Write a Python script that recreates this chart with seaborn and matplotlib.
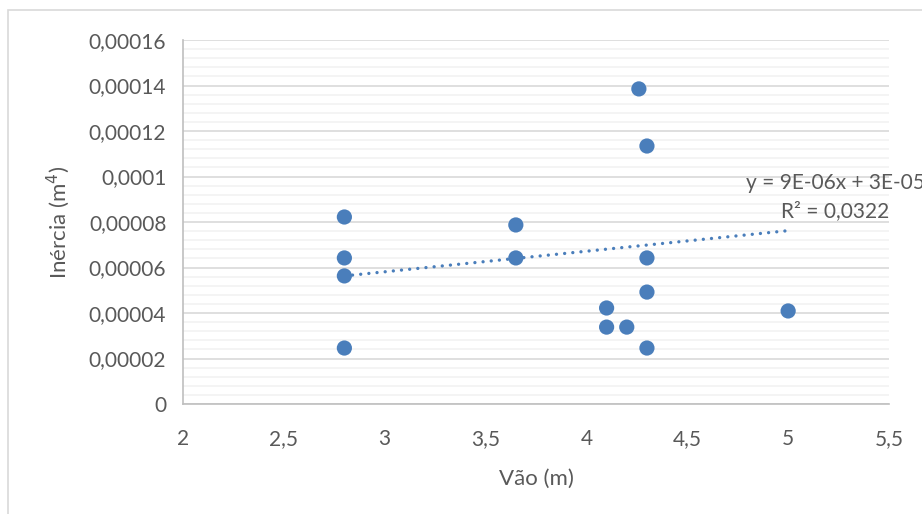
import numpy as np
import pandas as pd
import matplotlib
matplotlib.use("Agg")
import matplotlib.pyplot as plt
import seaborn as sns
from matplotlib.ticker import MultipleLocator
from matplotlib.patches import Rectangle

# dados
vao = [2.8, 2.8, 2.8, 2.8, 3.65, 3.65, 4.26, 4.3, 4.3, 4.3, 4.3, 4.1, 4.1, 4.2, 5.0]
inercia = [0.0000822, 0.0000642, 0.0000563, 0.0000246, 0.0000787, 0.0000642, 0.0001385,
           0.0001134, 0.0000642, 0.0000492, 0.0000246, 0.0000422, 0.0000338, 0.0000338, 0.0000409]
trend_x = [2.8, 5.0]
trend_y = [0.0000563, 0.0000762]
x_ticks = [2, 2.5, 3, 3.5, 4, 4.5, 5, 5.5]
x_labels = ["2", "2,5", "3", "3,5", "4", "4,5", "5", "5,5"]
y_ticks = [0, 0.00002, 0.00004, 0.00006, 0.00008, 0.0001, 0.00012, 0.00014, 0.00016]
y_labels = ["0", "0,00002", "0,00004", "0,00006", "0,00008", "0,0001", "0,00012", "0,00014", "0,00016"]

df = pd.DataFrame({"Vão": vao, "Inércia": inercia})

sns.set_style("white")
plt.rcParams['font.family'] = ['Lato', 'DejaVu Sans']

fig = plt.figure(figsize=(9.22, 5.14), dpi=100)
W, H = 922, 514
ax = fig.add_axes([183 / W, 1 - 404 / H, (889 - 183) / W, (404 - 40) / H])

cor = "#4a7ebb"
cinza = "#595959"

ax.plot(trend_x, trend_y, linestyle=(0, (0.01, 2.45)), color=cor, linewidth=2.4,
        dash_capstyle="round", zorder=2)
sns.scatterplot(data=df, x="Vão", y="Inércia", ax=ax, color=cor, s=120,
                edgecolor="none", zorder=3)

ax.set_xlim(2, 5.5)
ax.set_ylim(0, 0.00016)
ax.set_xticks(x_ticks)
ax.set_xticklabels(x_labels)
ax.set_yticks(y_ticks)
ax.set_yticklabels(y_labels)
ax.yaxis.set_minor_locator(MultipleLocator(0.000004))
ax.grid(True, which="major", axis="y", color="#d9d9d9", linewidth=1.2)
ax.grid(True, which="minor", axis="y", color="#f2f2f2", linewidth=1.2)
ax.set_axisbelow(True)

for lado in ["top", "right"]:
    ax.spines[lado].set_visible(False)
for lado in ["left", "bottom"]:
    ax.spines[lado].set_color("#bfbfbf")
    ax.spines[lado].set_linewidth(1.2)

ax.tick_params(axis="both", which="major", direction="out", length=6, width=1.2,
               color="#bfbfbf", labelcolor=cinza, labelsize=15)
ax.tick_params(axis="x", pad=12)
ax.tick_params(axis="y", pad=6)
ax.tick_params(which="minor", length=0)

ax.set_xlabel("Vão (m)", fontsize=16, color=cinza, labelpad=14)
ax.set_ylabel("Inércia (m$^4$)", fontsize=16, color=cinza, labelpad=12)

ax.text(5.235, 0.0000971, "y = 9E-06x + 3E-05", fontsize=15, color=cinza,
        ha="center", va="center", clip_on=False)
ax.text(5.235, 0.0000848, "R² = 0,0322", fontsize=15, color=cinza,
        ha="center", va="center", clip_on=False)

fig.patches.append(Rectangle((8 / W, -0.1), 1.2, 1 - 10 / H + 0.1, transform=fig.transFigure,
                             fill=False, edgecolor="#d9d9d9", linewidth=1.2))

fig.savefig("out.png", dpi=100)
